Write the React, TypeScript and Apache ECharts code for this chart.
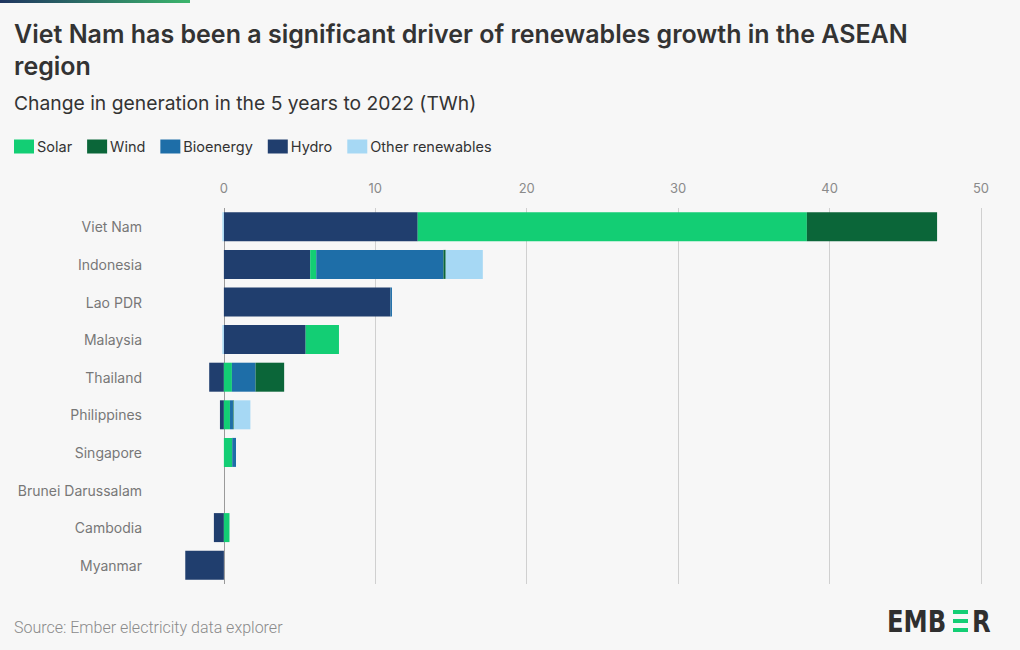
import React, { useEffect, useRef } from "react";
import * as echarts from "echarts";

const countries = [
  "Viet Nam",
  "Indonesia",
  "Lao PDR",
  "Malaysia",
  "Thailand",
  "Philippines",
  "Singapore",
  "Brunei Darussalam",
  "Cambodia",
  "Myanmar",
];

// Change in generation, TWh (5 years to 2022)
const hydro = [12.8, 5.7, 11.0, 5.4, -0.97, -0.26, 0, 0, -0.66, -2.55];
const solar = [25.7, 0.4, 0, 2.2, 0.53, 0.4, 0.55, 0, 0.37, 0];
const bioenergy = [0, 8.4, 0.1, 0, 1.56, 0.2, 0.25, 0, 0, 0];
const wind = [8.6, 0.15, 0, 0, 1.89, 0.05, 0, 0, 0, 0];
const otherRenewables = [-0.1, 2.45, 0, -0.1, 0, 1.1, 0, 0, 0, 0];

const xTicks = [0, 10, 20, 30, 40, 50];

const colors = {
  Solar: "#13ce74",
  Wind: "#0b6639",
  Bioenergy: "#1e6ea8",
  Hydro: "#203e6e",
  "Other renewables": "#a6d8f4",
};

const legendOrder = ["Solar", "Wind", "Bioenergy", "Hydro", "Other renewables"];

export default function App() {
  const ref = useRef<HTMLDivElement>(null);

  useEffect(() => {
    if (!ref.current) return;
    const chart = echarts.init(ref.current, undefined, { renderer: "svg" });

    const mk = (name: string, data: number[]) => ({
      name,
      type: "bar",
      stack: "total",
      data,
      barWidth: 29,
      itemStyle: { color: (colors as any)[name] },
      emphasis: { disabled: true },
    });

    const logoFont = "bold 27px 'DejaVu Sans Condensed', 'Liberation Sans Narrow', sans-serif";

    chart.setOption({
      animation: false,
      backgroundColor: "#f7f7f7",
      textStyle: { fontFamily: "Inter, 'Noto Sans', sans-serif" },
      title: [
        {
          text: "Viet Nam has been a significant driver of renewables growth in the ASEAN region",
          left: 14,
          top: 18,
          padding: 0,
          textStyle: {
            fontSize: 25,
            fontWeight: 600,
            color: "#333333",
            fontFamily: "Inter, sans-serif",
            width: 960,
            overflow: "break",
            lineHeight: 32,
          },
        },
        {
          text: "Change in generation in the 5 years to 2022 (TWh)",
          left: 14,
          top: 93,
          padding: 0,
          textStyle: {
            fontSize: 19.3,
            fontWeight: 400,
            color: "#333333",
            fontFamily: "Inter, sans-serif",
          },
        },
        {
          text: "Source: Ember electricity data explorer",
          left: 14,
          top: 619,
          padding: 0,
          textStyle: {
            fontSize: 16,
            fontWeight: 300,
            color: "#8a8a8a",
            fontFamily: "Roboto, sans-serif",
          },
        },
      ],
      legend: {
        data: legendOrder,
        left: 14,
        top: 139,
        padding: 0,
        icon: "rect",
        itemWidth: 20,
        itemHeight: 14,
        itemGap: 15,
        textStyle: { fontSize: 14.5, color: "#333333", padding: [0, 0, 0, -2] },
        selectedMode: false,
      },
      grid: {
        left: 183,
        right: 39,
        top: 208,
        bottom: 66,
        containLabel: false,
        outerBoundsMode: "none",
      },
      xAxis: {
        type: "value",
        position: "top",
        min: -2.7,
        max: 50,
        axisLine: { show: false },
        axisTick: { show: false, customValues: xTicks },
        axisLabel: {
          customValues: xTicks,
          color: "#8a8a8a",
          fontSize: 13,
          margin: 14,
        },
        splitLine: {
          show: true,
          lineStyle: {
            color: ["#9a9a9a", "#d0d0d0", "#d0d0d0", "#d0d0d0", "#d0d0d0", "#d0d0d0"],
            width: 1,
          },
        },
      },
      yAxis: {
        type: "category",
        data: countries,
        inverse: true,
        axisLine: { show: false, onZero: false },
        axisTick: { show: false },
        axisLabel: { color: "#777777", fontSize: 14, margin: 41 },
        splitLine: { show: false },
      },
      series: [
        mk("Hydro", hydro),
        mk("Solar", solar),
        mk("Bioenergy", bioenergy),
        mk("Wind", wind),
        mk("Other renewables", otherRenewables),
      ],
      graphic: [
        {
          type: "rect",
          left: 0,
          top: 0,
          shape: { width: 190, height: 3 },
          style: {
            fill: new echarts.graphic.LinearGradient(0, 0, 1, 0, [
              { offset: 0, color: "#1f3560" },
              { offset: 1, color: "#3bb56c" },
            ]),
          },
        },
        {
          type: "group",
          left: 887,
          top: 606,
          children: [
            {
              type: "text",
              x: 0,
              y: 0,
              scaleY: 1.12,
              style: { text: "EMB", font: logoFont, fill: "#2f2f2f" },
            },
            { type: "rect", shape: { x: 66, y: 4, width: 15, height: 4 }, style: { fill: "#13ce74" } },
            { type: "rect", shape: { x: 66, y: 13, width: 15, height: 4 }, style: { fill: "#13ce74" } },
            { type: "rect", shape: { x: 66, y: 22, width: 15, height: 4 }, style: { fill: "#13ce74" } },
            {
              type: "text",
              x: 85,
              y: 0,
              scaleY: 1.12,
              style: { text: "R", font: logoFont, fill: "#2f2f2f" },
            },
          ],
        },
      ],
    });

    return () => chart.dispose();
  }, []);

  return (
    <div
      ref={ref}
      style={{ position: "fixed", left: 0, top: 0, width: 1020, height: 650 }}
    />
  );
}
